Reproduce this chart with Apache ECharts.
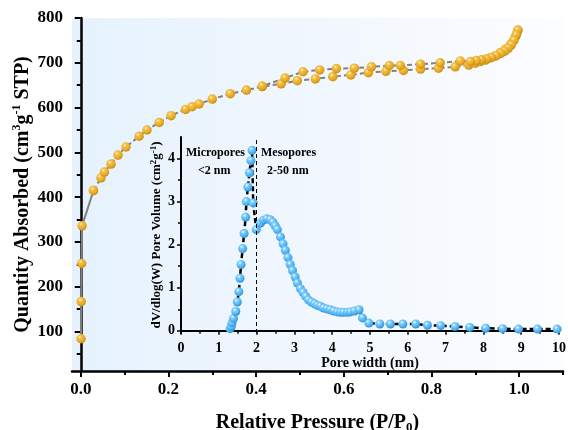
<!DOCTYPE html>
<html><head><meta charset="utf-8">
<script src="https://cdn.jsdelivr.net/npm/echarts@6/dist/echarts.min.js"></script>
<style>html,body{margin:0;padding:0;background:#fff}#c{width:568px;height:430px}</style>
</head><body><div id="c"></div>
<script>
// ---- Main isotherm data ----
const adsLowP = [0.0005, 0.001, 0.002, 0.003, 0.029];
const adsLowQ = [84, 167, 252, 336, 415];
const adsP = [0.029,0.046,0.054,0.069,0.085,0.103,0.133,0.151,0.179,0.206,0.239,0.254,0.270,0.300,0.341,0.378,0.414,0.457,0.494,0.535,0.575,0.616,0.656,0.696,0.736,0.775,0.816,0.854,0.885,0.900,0.912,0.923,0.934,0.946,0.957,0.969,0.980,0.987,0.992,0.995,0.997];
const adsQ = [415,443,456,474,494,512,536,550,567,582,596,602,608,619,631,639,647,653,660,664,669,673,678,681,683,686,688,691,695,699,703,706,711,716,723,731,741,750,759,767,772];
const desP = [0.997,0.993,0.988,0.982,0.975,0.967,0.958,0.948,0.937,0.926,0.914,0.902,0.889,0.866,0.820,0.775,0.729,0.704,0.663,0.624,0.583,0.545,0.507,0.466,0.414];
const desQ = [773,762,750,740,732,726,721,716,712,709,707,705,703,704,700,697,694,694,691,688,687,684,680,666,648];
// ---- Inset pore size distribution ----
const poreW = [1.30,1.33,1.35,1.39,1.45,1.49,1.53,1.56,1.59,1.63,1.67,1.71,1.73,1.77,1.81,1.85,1.88,1.91,1.99,2.10,2.18,2.27,2.36,2.43,2.49,2.55,2.63,2.70,2.76,2.83,2.89,2.95,3.02,3.08,3.16,3.23,3.30,3.37,3.45,3.53,3.61,3.69,3.77,3.86,3.95,4.04,4.13,4.22,4.30,4.40,4.48,4.59,4.71,4.80,4.97,5.26,5.54,5.87,6.21,6.52,6.87,7.25,7.64,8.06,8.51,8.93,9.43,9.95];
const poreV = [0.05,0.10,0.19,0.29,0.45,0.67,0.91,1.22,1.54,1.91,2.26,2.64,3.00,3.34,3.67,3.95,4.19,2.97,2.35,2.50,2.57,2.60,2.58,2.52,2.44,2.35,2.18,2.02,1.87,1.70,1.54,1.40,1.25,1.11,0.98,0.89,0.80,0.72,0.67,0.63,0.59,0.57,0.53,0.51,0.49,0.46,0.44,0.43,0.43,0.43,0.44,0.46,0.49,0.30,0.18,0.16,0.16,0.16,0.16,0.13,0.12,0.10,0.08,0.06,0.05,0.04,0.04,0.04];
// ---- Tick values ----
const mainXTicks = [0, 0.2, 0.4, 0.6, 0.8, 1.0];
const mainXMinor = [0.1, 0.3, 0.5, 0.7, 0.9, 1.1];
const mainYTicks = [100, 200, 300, 400, 500, 600, 700, 800];
const mainYMinor = [50, 150, 250, 350, 450, 550, 650, 750];
const insetXTicks = [0,1,2,3,4,5,6,7,8,9,10];
const insetXMinor = [0.5,1.5,2.5,3.5,4.5,5.5,6.5,7.5,8.5,9.5];
const insetYTicks = [0,1,2,3,4];
const insetYMinor = [0.5,1.5,2.5,3.5];

const zip = (a,b) => a.map((v,i)=>[v,b[i]]);
const FONT = '"Liberation Serif","Times New Roman",serif';
const orange = {type:'radial',x:0.38,y:0.32,r:0.7,colorStops:[{offset:0,color:'#fff6d0'},{offset:0.25,color:'#f3c24c'},{offset:0.7,color:'#e6a823'},{offset:1,color:'#c88a10'}]};
const blue = {type:'radial',x:0.38,y:0.32,r:0.7,colorStops:[{offset:0,color:'#ffffff'},{offset:0.25,color:'#86d0fb'},{offset:0.7,color:'#4cb0f1'},{offset:1,color:'#2e8fd8'}]};

const chart = echarts.init(document.getElementById('c'), null, {renderer:'canvas'});
const axisLine = {show:true, lineStyle:{color:'#000', width:2.5}};
const inAxisLine = {show:true, lineStyle:{color:'#000', width:2}};
const lbl = (size, vals, fmt) => ({show:true, customValues: vals, fontFamily: FONT, fontWeight:'bold', fontSize:size, color:'#000', formatter: fmt});
const tick = (vals, len, w) => ({show:true, customValues: vals, length: len, inside:false, lineStyle:{color:'#000', width:w}});
const minorAxis = (extra) => Object.assign({type:'value', axisLine:{show:false}, axisLabel:{show:false}, splitLine:{show:false}}, extra);

chart.setOption({
  animation:false,
  backgroundColor:'#fff',
  grid:[
    {left:72, right:5, top:18, bottom:59, show:true, borderWidth:0, containLabel:false, outerBoundsMode:'none',
     backgroundColor:{type:'linear',x:0,y:0,x2:1,y2:0,colorStops:[{offset:0,color:'#e5f2fd'},{offset:0.5,color:'#f1f7fe'},{offset:1,color:'#fcfdff'}]}},
    {left:181, right:9, top:137, bottom:97, containLabel:false, outerBoundsMode:'none'}
  ],
  xAxis:[
    {type:'value', gridIndex:0, min:-0.02, max:1.1, position:'bottom', axisLine:axisLine, splitLine:{show:false},
     axisTick:tick(mainXTicks,6,2), axisLabel:Object.assign(lbl(17, mainXTicks, v=>v.toFixed(1)),{margin:10}),
     name:'{n|Relative Pressure (P/P}{b|0}{n|)}', nameLocation:'middle', nameGap:40, nameMoveOverlap:false,
     nameTextStyle:{rich:{n:{fontFamily:FONT,fontWeight:'bold',fontSize:20,color:'#000',lineHeight:23},b:{fontFamily:FONT,fontWeight:'bold',fontSize:13,color:'#000',verticalAlign:'bottom',lineHeight:13}}}},
    minorAxis({gridIndex:0, min:-0.02, max:1.1, position:'bottom', axisTick:tick(mainXMinor,4,2)}),
    {type:'value', gridIndex:1, min:0, max:10, position:'bottom', axisLine:inAxisLine, splitLine:{show:false},
     axisTick:tick(insetXTicks,4,1.5), axisLabel:Object.assign(lbl(14, insetXTicks),{margin:8}),
     name:'Pore width (nm)', nameLocation:'middle', nameGap:23, nameMoveOverlap:false,
     nameTextStyle:{fontFamily:FONT,fontWeight:'bold',fontSize:14,color:'#000'}},
    minorAxis({gridIndex:1, min:0, max:10, position:'bottom', axisTick:tick(insetXMinor,3,1.5)})
  ],
  yAxis:[
    {type:'value', gridIndex:0, min:12, max:800, position:'left', axisLine:axisLine, splitLine:{show:false},
     axisTick:tick(mainYTicks,6,2), axisLabel:Object.assign(lbl(17, mainYTicks),{margin:9}),
     name:'{n|Quantity Absorbed (cm}{s|3}{n|g}{s|-1}{n| STP)}', nameLocation:'middle', nameGap:37, nameMoveOverlap:false,
     nameTextStyle:{rich:{n:{fontFamily:FONT,fontWeight:'bold',fontSize:20,color:'#000',lineHeight:24},s:{fontFamily:FONT,fontWeight:'bold',fontSize:12,color:'#000',verticalAlign:'top',lineHeight:12}}}},
    minorAxis({gridIndex:0, min:12, max:800, position:'left', axisTick:tick(mainYMinor,4,2)}),
    {type:'value', gridIndex:1, min:-0.05, max:4.5, position:'left', axisLine:inAxisLine, splitLine:{show:false},
     axisTick:tick(insetYTicks,4,1.5), axisLabel:Object.assign(lbl(14, insetYTicks),{margin:6}),
     name:'{n|dV/dlog(W) Pore Volume (cm}{s|2}{n|g}{s|-1}{n|)}', nameLocation:'middle', nameGap:17, nameMoveOverlap:false,
     nameTextStyle:{rich:{n:{fontFamily:FONT,fontWeight:'bold',fontSize:13,color:'#000',lineHeight:15},s:{fontFamily:FONT,fontWeight:'bold',fontSize:9,color:'#000',verticalAlign:'top',lineHeight:9}}}},
    minorAxis({gridIndex:1, min:-0.05, max:4.5, position:'left', axisTick:tick(insetYMinor,3,1.5)})
  ],
  series:[
    {type:'line', xAxisIndex:0, yAxisIndex:0, data:zip(adsLowP, adsLowQ), symbol:'circle', symbolSize:9.5,
     lineStyle:{color:'#808080', width:2}, itemStyle:{color:orange, borderWidth:0}, z:3},
    {type:'line', xAxisIndex:0, yAxisIndex:0, data:zip(adsP, adsQ), symbol:'circle', symbolSize:9.5,
     lineStyle:{color:'#808080', width:2, type:[5,3]}, itemStyle:{color:orange, borderWidth:0}, z:3},
    {type:'line', xAxisIndex:0, yAxisIndex:0, data:zip(desP, desQ), symbol:'circle', symbolSize:9.5,
     lineStyle:{color:'#808080', width:2, type:[5,3]}, itemStyle:{color:orange, borderWidth:0}, z:3},
    {type:'line', xAxisIndex:2, yAxisIndex:2, data:zip(poreW, poreV), symbol:'circle', symbolSize:9,
     lineStyle:{color:'#000', width:2.5, type:[5,3]}, itemStyle:{color:blue, borderWidth:0}, z:4,
     markLine:{silent:true, symbol:'none', label:{show:false}, lineStyle:{color:'#000', width:1, type:[4,3]},
       data:[[{coord:[2,-0.05]},{coord:[2,4.5]}]]}}
  ],
  graphic:[
    {type:'text', left:186, top:147, style:{text:'Micropores', font:'bold 12px '+FONT, fill:'#000'}},
    {type:'text', left:198, top:165, style:{text:'<2 nm', font:'bold 12px '+FONT, fill:'#000'}},
    {type:'text', left:261, top:147, style:{text:'Mesopores', font:'bold 12px '+FONT, fill:'#000'}},
    {type:'text', left:267, top:165, style:{text:'2-50 nm', font:'bold 12px '+FONT, fill:'#000'}}
  ]
});
</script></body></html>
